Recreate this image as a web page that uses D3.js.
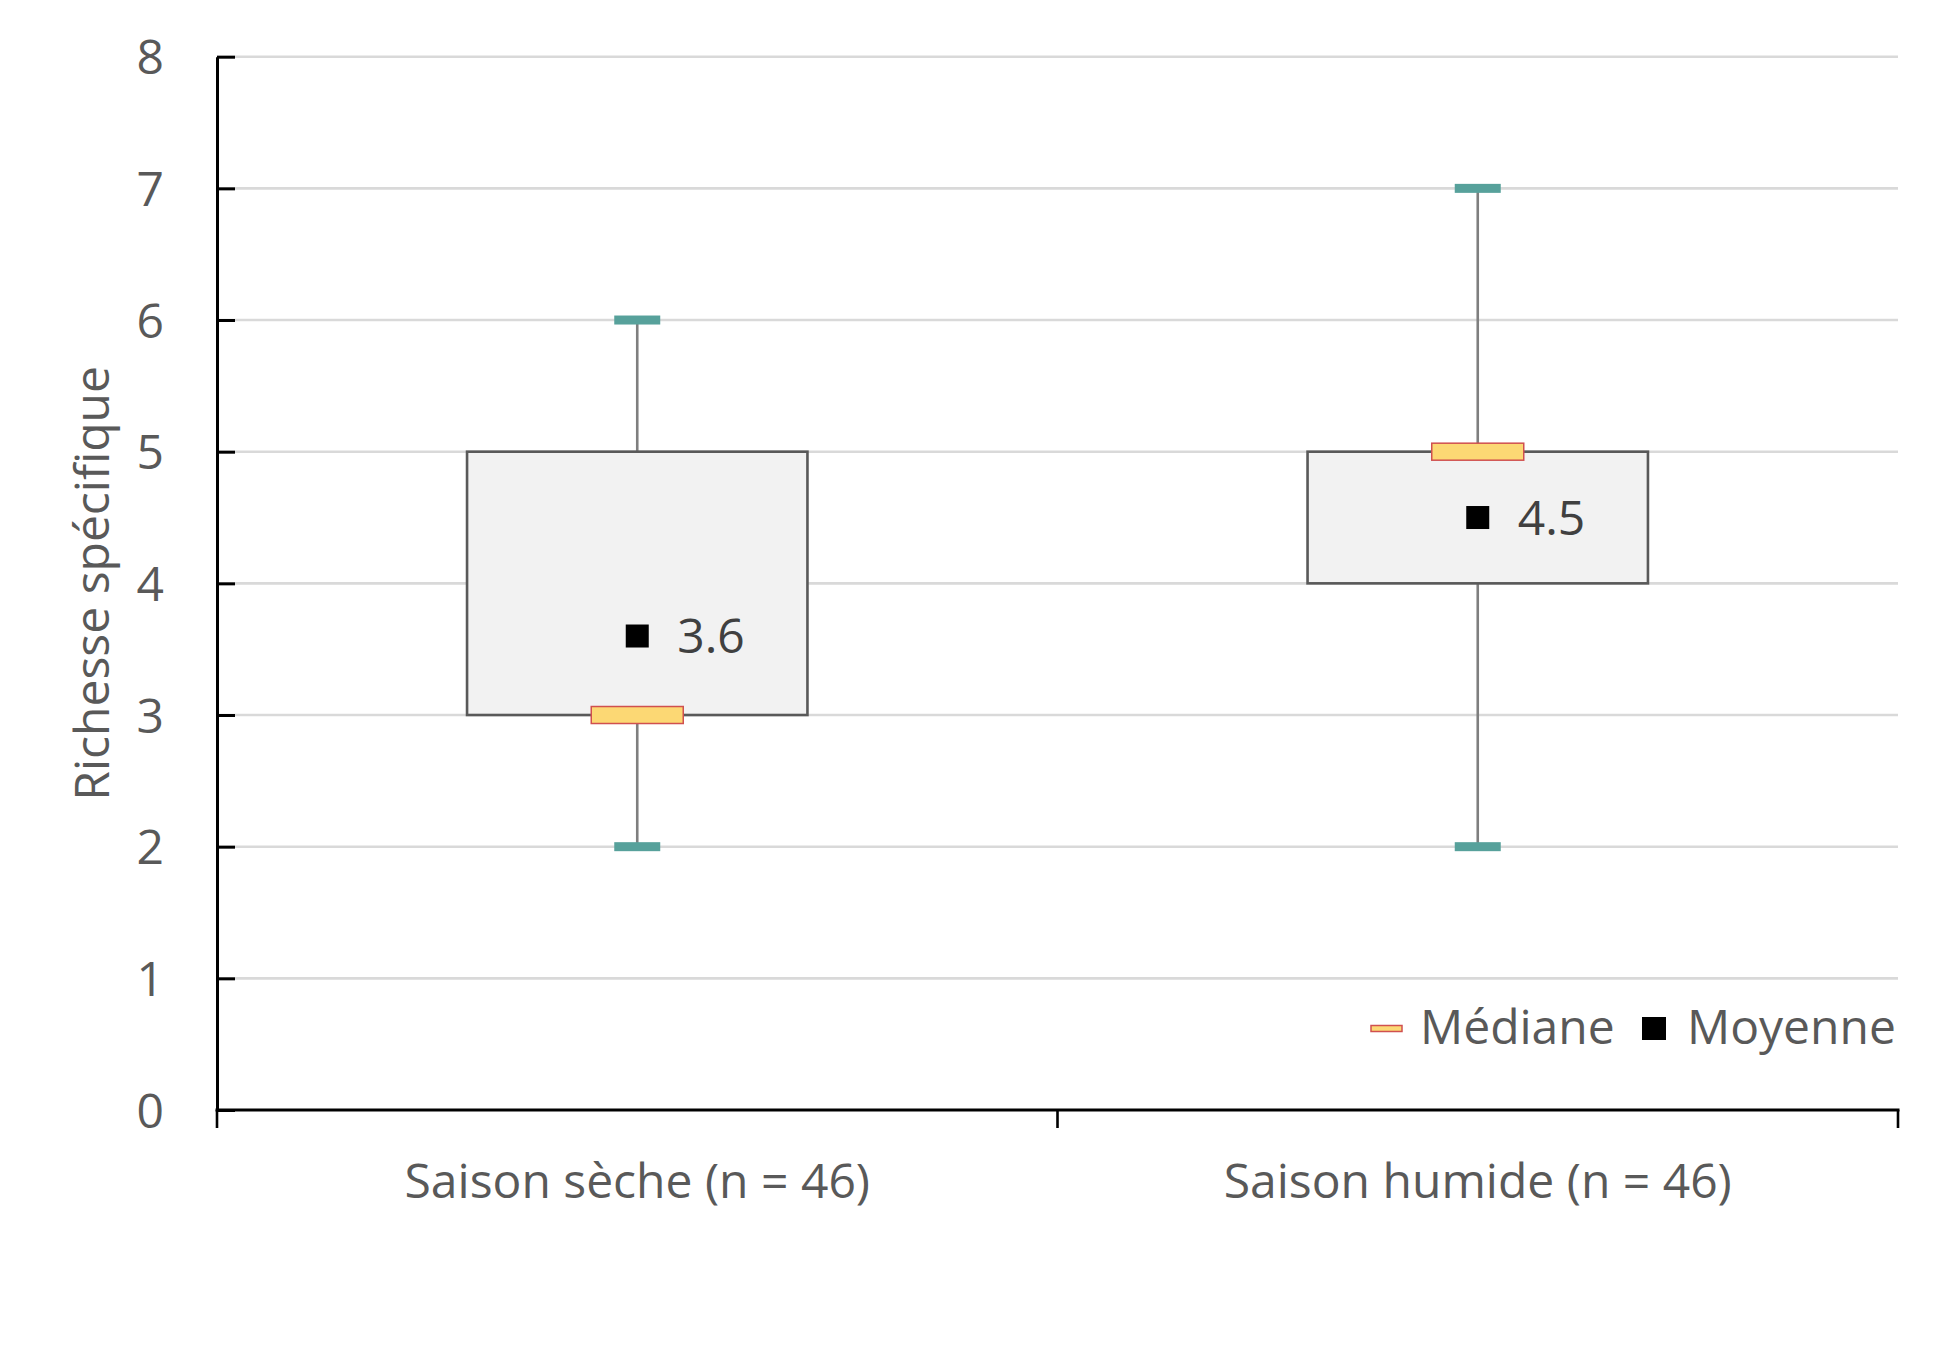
<!DOCTYPE html>
<html>
<head>
<meta charset="utf-8">
<script src="https://cdn.jsdelivr.net/npm/d3@7"></script>
<style>
    body { margin: 0; background: #fff; }
    svg { display: block; font-family: "Open Sans", "Noto Sans", sans-serif; }
    .tick text, .label { fill: #595959; font-size: 48px; }
</style>
</head>
<body>
<svg id="chart" width="1949" height="1364"></svg>
<script>
    // data
    const categories = ["Saison sèche (n = 46)", "Saison humide (n = 46)"];
    const minVals = [2, 2];
    const q1Vals = [3, 4];
    const medianVals = [3, 5];
    const q3Vals = [5, 5];
    const maxVals = [6, 7];
    const meanVals = [3.6, 4.5];
    const yTicks = [0, 1, 2, 3, 4, 5, 6, 7, 8];
    const yTitle = "Richesse spécifique";
    const legendLabels = ["Médiane", "Moyenne"];

    const plotLeft = 217, plotRight = 1898, plotTop = 56.7, plotBottom = 1110;

    const svg = d3.select("#chart");

    const x = d3.scaleBand()
        .domain(categories)
        .range([plotLeft, plotRight]);

    const y = d3.scaleLinear()
        .domain([0, 8])
        .range([plotBottom, plotTop]);

    const boxes = categories.map((c, i) => ({
        cat: c,
        min: minVals[i],
        q1: q1Vals[i],
        median: medianVals[i],
        q3: q3Vals[i],
        max: maxVals[i],
        mean: meanVals[i]
    }));

    const cx = d => x(d.cat) + x.bandwidth() / 2;
    const boxW = x.bandwidth() * 0.405;
    const medW = 92, medH = 17, capW = 46, capH = 9, meanS = 23;

    // gridlines
    svg.append("g")
        .selectAll("line")
        .data(yTicks.filter(t => t > 0))
        .join("line")
        .attr("x1", plotLeft)
        .attr("x2", plotRight)
        .attr("y1", y)
        .attr("y2", y)
        .attr("stroke", "#d9d9d9")
        .attr("stroke-width", 2.6);

    // y axis
    const yAxis = svg.append("g")
        .attr("transform", `translate(${plotLeft},0)`)
        .call(d3.axisLeft(y)
            .tickValues(yTicks)
            .tickSizeInner(-18)
            .tickSizeOuter(0)
            .tickPadding(53));
    yAxis.attr("font-family", null).attr("font-size", null);
    yAxis.select(".domain").attr("stroke", "#000").attr("stroke-width", 3);
    yAxis.selectAll(".tick line").attr("stroke", "#000").attr("stroke-width", 3);
    yAxis.selectAll(".tick text").attr("dy", "0.36em");

    // x axis line and boundary ticks
    svg.append("line")
        .attr("x1", plotLeft - 1.5)
        .attr("x2", plotRight + 1.5)
        .attr("y1", plotBottom)
        .attr("y2", plotBottom)
        .attr("stroke", "#000")
        .attr("stroke-width", 3.2);

    const bounds = categories.map(c => x(c)).concat([x.range()[1]]);
    svg.append("g")
        .selectAll("line")
        .data(bounds)
        .join("line")
        .attr("x1", d => d)
        .attr("x2", d => d)
        .attr("y1", plotBottom)
        .attr("y2", plotBottom + 18)
        .attr("stroke", "#000")
        .attr("stroke-width", 2.6);

    svg.append("g")
        .selectAll("text")
        .data(categories)
        .join("text")
        .attr("class", "label")
        .attr("x", d => x(d) + x.bandwidth() / 2)
        .attr("y", 1198)
        .attr("text-anchor", "middle")
        .text(d => d);

    // y title
    svg.append("text")
        .attr("class", "label")
        .attr("transform", `translate(109,${(plotTop + plotBottom) / 2}) rotate(-90)`)
        .attr("text-anchor", "middle")
        .text(yTitle);

    // boxes
    const g = svg.append("g")
        .selectAll("g")
        .data(boxes)
        .join("g");

    g.append("line")
        .attr("x1", cx)
        .attr("x2", cx)
        .attr("y1", d => y(d.max))
        .attr("y2", d => y(d.min))
        .attr("stroke", "#7f7f7f")
        .attr("stroke-width", 2.6);

    g.append("rect")
        .attr("x", d => cx(d) - boxW / 2)
        .attr("y", d => y(d.q3))
        .attr("width", boxW)
        .attr("height", d => y(d.q1) - y(d.q3))
        .attr("fill", "#f2f2f2")
        .attr("stroke", "#595959")
        .attr("stroke-width", 2.6);

    g.selectAll(".cap")
        .data(d => [d.min, d.max].map(v => ({v, d})))
        .join("rect")
        .attr("class", "cap")
        .attr("x", e => cx(e.d) - capW / 2)
        .attr("y", e => y(e.v) - capH / 2)
        .attr("width", capW)
        .attr("height", capH)
        .attr("fill", "#57a19b");

    g.append("rect")
        .attr("x", d => cx(d) - medW / 2)
        .attr("y", d => y(d.median) - medH / 2)
        .attr("width", medW)
        .attr("height", medH)
        .attr("fill", "#fcd874")
        .attr("stroke", "#d0504f")
        .attr("stroke-width", 1.5);

    g.append("rect")
        .attr("x", d => cx(d) - meanS / 2)
        .attr("y", d => y(d.mean) - meanS / 2)
        .attr("width", meanS)
        .attr("height", meanS)
        .attr("fill", "#000");

    g.append("text")
        .attr("x", d => cx(d) + 40)
        .attr("y", d => y(d.mean))
        .attr("dy", "0.36em")
        .attr("font-size", 48)
        .attr("fill", "#404040")
        .text(d => d.mean.toFixed(1));

    // legend
    const legend = svg.append("g");
    legend.append("rect")
        .attr("x", 1371)
        .attr("y", 1025.5)
        .attr("width", 31)
        .attr("height", 6)
        .attr("fill", "#fcd874")
        .attr("stroke", "#d0504f")
        .attr("stroke-width", 1.5);
    legend.append("text")
        .attr("class", "label")
        .attr("x", 1420)
        .attr("y", 1044)
        .text(legendLabels[0]);
    legend.append("rect")
        .attr("x", 1642)
        .attr("y", 1017)
        .attr("width", 24)
        .attr("height", 23)
        .attr("fill", "#000");
    legend.append("text")
        .attr("class", "label")
        .attr("x", 1687)
        .attr("y", 1044)
        .text(legendLabels[1]);
</script>
</body>
</html>
